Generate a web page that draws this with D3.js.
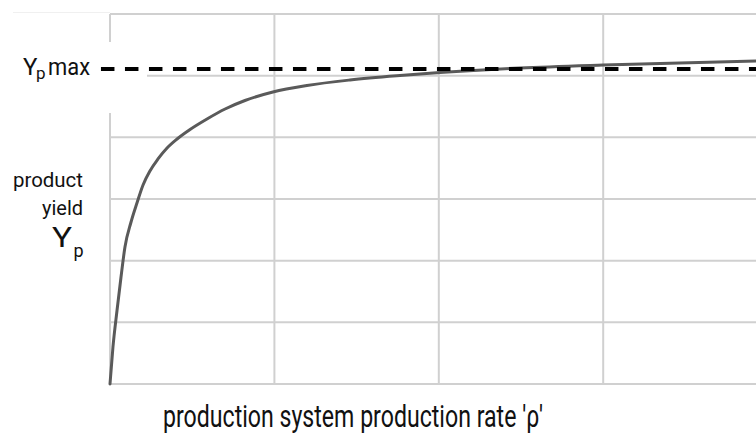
<!DOCTYPE html>
<html>
<head>
<meta charset="utf-8">
<script src="https://cdn.jsdelivr.net/npm/d3@7"></script>
<style>
  html, body { margin: 0; padding: 0; background: #ffffff; }
  svg { display: block; }
</style>
</head>
<body>
<svg id="chart" width="756" height="433"></svg>
<script>
// ---- data ----
const rateValues  = [0, 0.018, 0.043, 0.067, 0.091, 0.128, 0.164, 0.201, 0.243, 0.292, 0.347, 0.408, 0.487, 0.590, 0.700, 0.821, 0.991, 1.198, 1.460, 1.764, 2.007, 2.494, 3.0, 3.93];
const yieldValues = [0, 0.600, 1.200, 1.735, 2.222, 2.627, 2.935, 3.227, 3.454, 3.649, 3.827, 3.973, 4.127, 4.297, 4.459, 4.597, 4.735, 4.841, 4.930, 5.003, 5.051, 5.124, 5.173, 5.238];
const xGridTicks = [0, 1, 2, 3];
const yGridTicks = [0, 1, 2, 3, 4, 5, 6];
const ypMax = 5.11;
const refLineX = [-0.055, 3.93];
const xLabel = "production system production rate 'ρ'";

// ---- scales ----
const svg = d3.select("#chart");
const x = d3.scaleLinear().domain([0, 4]).range([110, 767.6]);
const y = d3.scaleLinear().domain([0, 6]).range([384, 14]);

const grid = "#d0d0d0";

// faint top-left line
svg.append("line")
  .attr("x1", 13).attr("x2", x(0))
  .attr("y1", 12.5).attr("y2", 12.5)
  .attr("stroke", "#f0f0f0").attr("stroke-width", 1);

// horizontal gridlines
svg.append("g").selectAll("line").data(yGridTicks).join("line")
  .attr("x1", x(0)).attr("x2", 756)
  .attr("y1", d => y(d)).attr("y2", d => y(d))
  .attr("stroke", grid).attr("stroke-width", 2);

// vertical gridlines
svg.append("g").selectAll("line").data(xGridTicks).join("line")
  .attr("x1", d => x(d)).attr("x2", d => x(d))
  .attr("y1", y(6)).attr("y2", y(0))
  .attr("stroke", grid).attr("stroke-width", 2);

// white label box covering part of grid
svg.append("rect")
  .attr("x", 0).attr("y", 42).attr("width", 147).attr("height", 71)
  .attr("fill", "#ffffff");

// curve
const pts = rateValues.map((r, i) => [r, yieldValues[i]]);
svg.append("path")
  .datum(pts)
  .attr("fill", "none")
  .attr("stroke", "#5a5a5a")
  .attr("stroke-width", 3)
  .attr("stroke-linejoin", "round")
  .attr("stroke-linecap", "round")
  .attr("d", d3.line().x(d => x(d[0])).y(d => y(d[1])).curve(d3.curveMonotoneX));

// Yp max dashed line
svg.append("line")
  .attr("x1", x(refLineX[0])).attr("x2", x(refLineX[1]))
  .attr("y1", y(ypMax)).attr("y2", y(ypMax))
  .attr("stroke", "#000000").attr("stroke-width", 4)
  .attr("stroke-dasharray", "13.5,10.5");

const font = "Roboto, 'Noto Sans', sans-serif";

// Yp max label
const lab = svg.append("g").attr("font-family", font).attr("fill", "#111");
lab.append("text").attr("x", 23).attr("y", 74.5).attr("font-size", 24).text("Y");
lab.append("text").attr("x", 36).attr("y", 78.5).attr("font-size", 17).text("p");
lab.append("text").attr("x", 48).attr("y", 74.5).attr("font-size", 24)
  .attr("textLength", 42).attr("lengthAdjust", "spacingAndGlyphs").text("max");

// y axis label
svg.append("text")
  .attr("x", 83).attr("y", 186.5)
  .attr("text-anchor", "end")
  .attr("font-family", font).attr("font-size", 20).attr("fill", "#111")
  .attr("textLength", 70).attr("lengthAdjust", "spacingAndGlyphs")
  .text("product");
svg.append("text")
  .attr("x", 83).attr("y", 215)
  .attr("text-anchor", "end")
  .attr("font-family", font).attr("font-size", 20).attr("fill", "#111")
  .attr("textLength", 41).attr("lengthAdjust", "spacingAndGlyphs")
  .text("yield");
svg.append("text")
  .attr("x", 52).attr("y", 247)
  .attr("font-family", font).attr("font-size", 27).attr("fill", "#111")
  .attr("textLength", 20).attr("lengthAdjust", "spacingAndGlyphs")
  .text("Y");
svg.append("text")
  .attr("x", 73.5).attr("y", 256.5)
  .attr("font-family", font).attr("font-size", 18).attr("fill", "#111")
  .text("p");

// x axis label
svg.append("text")
  .attr("x", 163).attr("y", 426.5)
  .attr("font-family", font).attr("font-size", 30.5).attr("fill", "#111")
  .attr("textLength", 380).attr("lengthAdjust", "spacingAndGlyphs")
  .text(xLabel);
</script>
</body>
</html>
